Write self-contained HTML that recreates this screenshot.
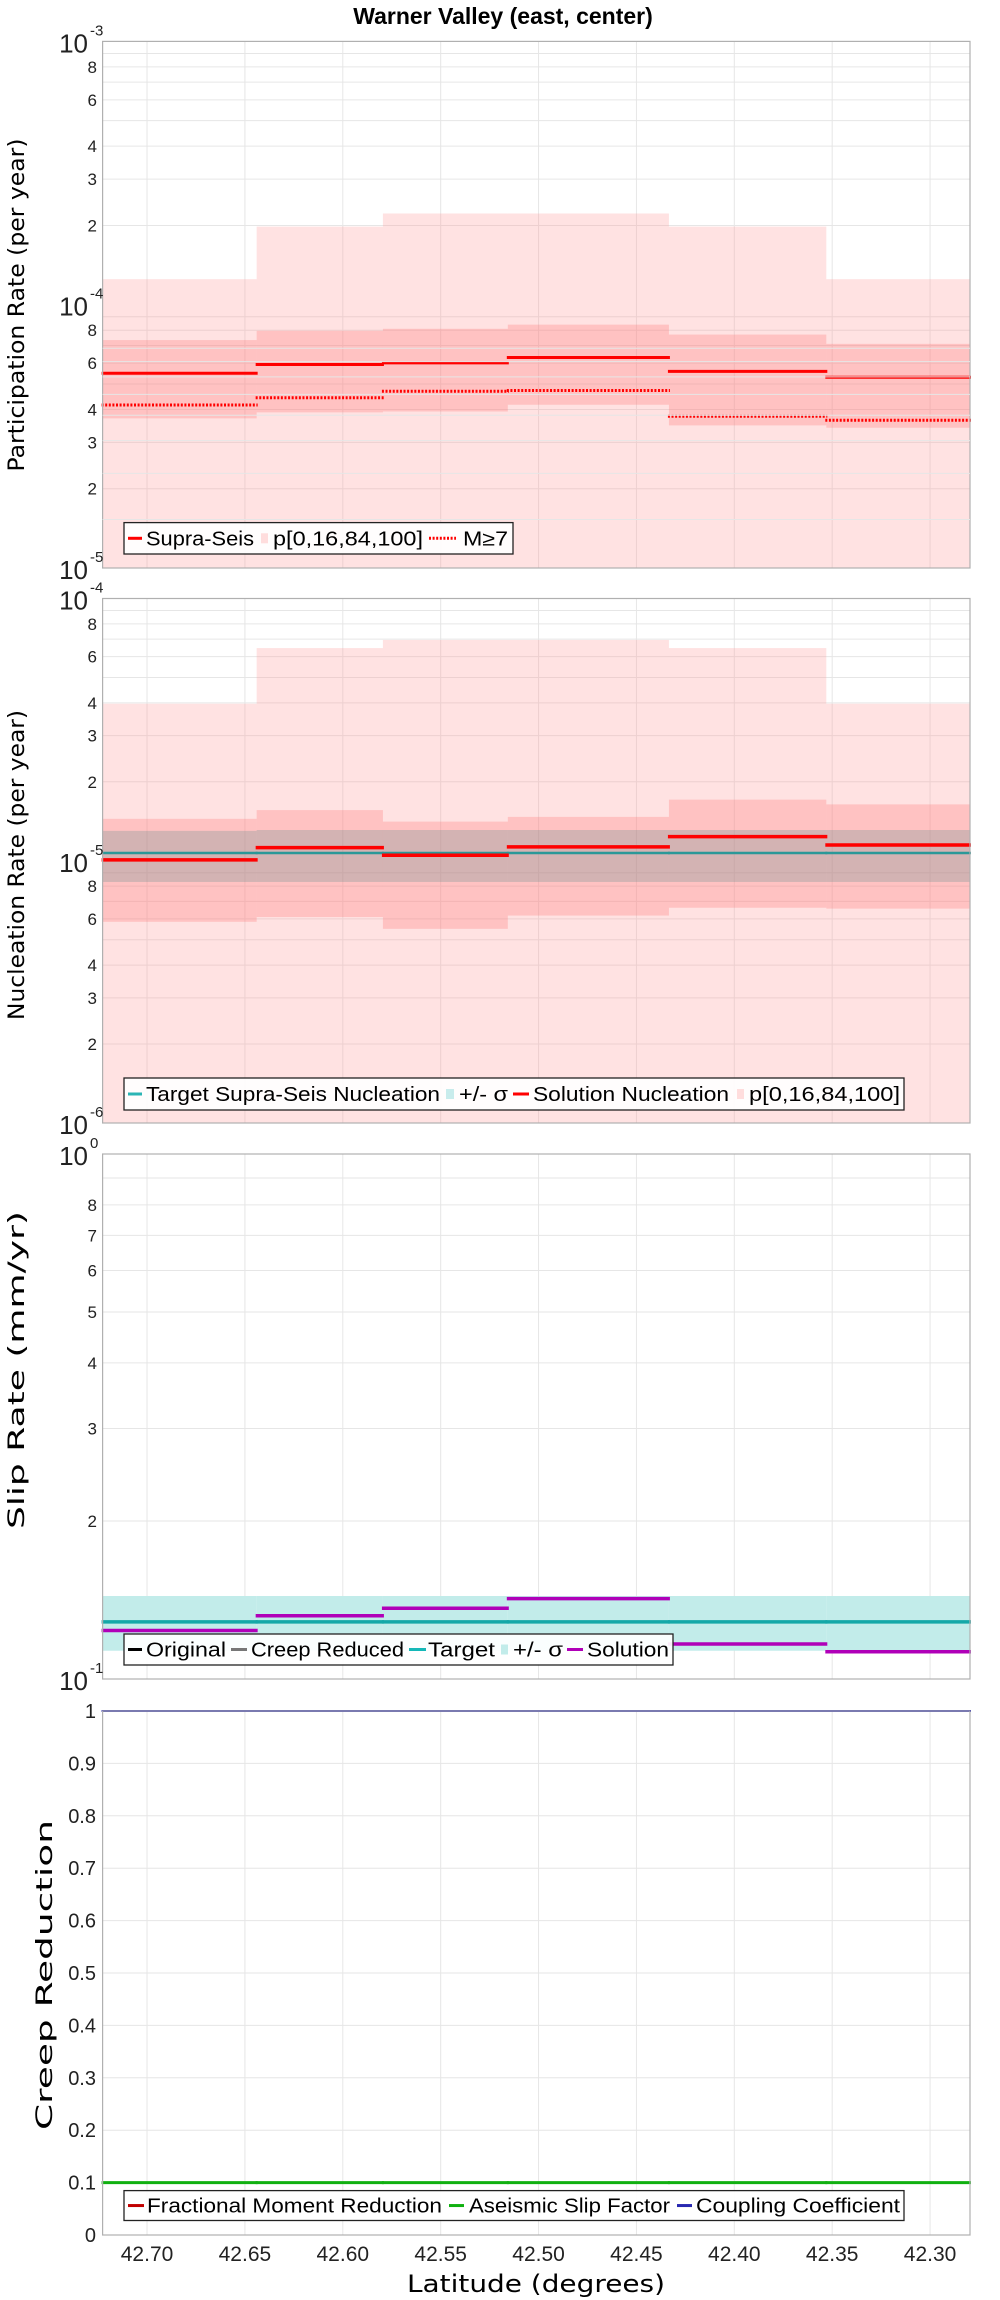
<!DOCTYPE html>
<html><head><meta charset="utf-8"><style>
html,body{margin:0;padding:0;background:#fff}
svg{display:block;font-family:"Liberation Sans",sans-serif}
</style></head><body>
<svg id="c" width="1000" height="2300" viewBox="0 0 1000 2300" xmlns="http://www.w3.org/2000/svg"></svg>
<script>
// ---- data ----
const segEdges = [42.7227, 42.644, 42.5795, 42.5157, 42.4334, 42.353, 42.2796];
const xTicks = [42.70, 42.65, 42.60, 42.55, 42.50, 42.45, 42.40, 42.35, 42.30];
const xTickLabels = ["42.70","42.65","42.60","42.55","42.50","42.45","42.40","42.35","42.30"];
// panel 1 participation
const partP0 = [5e-6,5e-6,5e-6,5e-6,5e-6,5e-6];
const partP100 = [1.25e-4,1.98e-4,2.22e-4,2.22e-4,1.98e-4,1.25e-4];
const partP16 = [3.7e-5,3.9e-5,3.93e-5,4.17e-5,3.48e-5,3.41e-5];
const partP84 = [7.34e-5,7.96e-5,8.1e-5,8.4e-5,7.7e-5,7.1e-5];
const partSupra = [5.49e-5,5.93e-5,6.01e-5,6.3e-5,5.58e-5,5.3e-5];
const partM7 = [4.16e-5,4.43e-5,4.69e-5,4.72e-5,3.77e-5,3.64e-5];
// panel 2 nucleation
const nuclP0 = [5e-7,5e-7,5e-7,5e-7,5e-7,5e-7];
const nuclP100 = [3.97e-5,6.47e-5,6.95e-5,6.95e-5,6.47e-5,3.97e-5];
const nuclP16 = [5.85e-6,6.1e-6,5.5e-6,6.18e-6,6.62e-6,6.57e-6];
const nuclP84 = [1.445e-5,1.56e-5,1.41e-5,1.47e-5,1.71e-5,1.64e-5];
const nuclTarget = [1.07e-5,1.07e-5,1.07e-5,1.07e-5,1.07e-5,1.07e-5];
const nuclSigLo = [8.3e-6,8.3e-6,8.3e-6,8.3e-6,8.3e-6,8.3e-6];
const nuclSigHi = [1.30e-5,1.31e-5,1.31e-5,1.31e-5,1.31e-5,1.31e-5];
const nuclSolution = [1.008e-5,1.122e-5,1.05e-5,1.13e-5,1.236e-5,1.148e-5];
// panel 3 slip
const slipTarget = [0.1285,0.1285,0.1285,0.1285,0.1285,0.1285];
const slipSigLo = [0.1132,0.1132,0.1132,0.1132,0.1132,0.1132];
const slipSigHi = [0.1439,0.1439,0.1439,0.1439,0.1439,0.1439];
const slipSolution = [0.1237,0.132,0.1364,0.1423,0.1166,0.1127];
// panel 4 creep
const aseismic = [0.1,0.1,0.1,0.1,0.1,0.1];
const coupling = [1,1,1,1,1,1];

// ---- layout ----
const svg = document.getElementById('c');
const NS = 'http://www.w3.org/2000/svg';
const L = 102.6, R = 970;
const panels = [
 {top:41.4, bot:568, lo:1e-5, hi:1e-3, log:true},
 {top:598.5, bot:1123, lo:1e-6, hi:1e-4, log:true},
 {top:1154, bot:1679, lo:0.1, hi:1, log:true},
 {top:1711, bot:2235, lo:0, hi:1, log:false}
];
function X(lat){return L + (segEdges[0]-lat)/(segEdges[0]-segEdges[6])*(R-L);}
function Y(p,v){
  if(p.log){return p.top + (Math.log10(p.hi)-Math.log10(v))/(Math.log10(p.hi)-Math.log10(p.lo))*(p.bot-p.top);}
  return p.top + (p.hi-v)/(p.hi-p.lo)*(p.bot-p.top);
}
function mk(tag,attrs,parent){const e=document.createElementNS(NS,tag);for(const k in attrs)e.setAttribute(k,attrs[k]);(parent||svg).appendChild(e);return e;}
function clampY(p,y){return Math.max(p.top,Math.min(p.bot,y));}

// title
const t = mk('text',{x:503,y:24,'text-anchor':'middle','font-size':23,'font-weight':'bold',fill:'#000'});


t.textContent='Warner Valley (east, center)';

function grid(p,pi,yvals){
  const g=mk('g',{});
  
  
  yvals.forEach(v=>{const y=Y(p,v);mk('line',{x1:L,x2:R,y1:y,y2:y,stroke:'#e6e6e6','stroke-width':1},g);});
  xTicks.forEach(v=>{const x=X(v);mk('line',{x1:x,x2:x,y1:p.top,y2:p.bot,stroke:'#e6e6e6','stroke-width':1},g);});
}
function bands(p,lo,hi,fill,name){
  for(let i=0;i<6;i++){
    const y1=clampY(p,Y(p,hi[i])),y2=clampY(p,Y(p,lo[i]));
    const r=mk('rect',{x:X(segEdges[i]),y:y1,width:X(segEdges[i+1])-X(segEdges[i]),height:y2-y1,fill:fill});
    
    
  }
}
function steps(p,vals,color,w,name,dash){
  for(let i=0;i<6;i++){
    const y=Y(p,vals[i]);
    const a={x1:X(segEdges[i])-1,x2:X(segEdges[i+1])+1,y1:y,y2:y,stroke:color,'stroke-width':w};
    if(dash)a['stroke-dasharray']=dash;
    const l=mk('line',a);
    
    
  }
}
function frame(p,pi){
  const r=mk('rect',{x:L,y:p.top,width:R-L,height:p.bot-p.top,fill:'none',stroke:'#b0b0b0','stroke-width':1.2});
  
  
}
function logTicks(p,pi,labels){
  const g=mk('g',{'font-size':17,fill:'#222','text-anchor':'end'});
  
  
  labels.forEach(([v,txt,exp])=>{
    const y=Y(p,v);
    if(exp!==undefined){
      const tx=mk('text',{x:88,y:y+11,'font-size':26,'text-anchor':'end'},g);tx.textContent='10';
      const te=mk('text',{x:90,y:y-6,'font-size':15,'text-anchor':'start'},g);te.textContent=exp;
    } else {
      const tx=mk('text',{x:97,y:y+6},g);tx.textContent=txt;
    }
  });
}
function yTitle(txt,cx,cy,len,name){
  const e=mk('text',{x:cx,y:cy,'font-size':22,'text-anchor':'middle',transform:`rotate(-90 ${cx} ${cy})`,fill:'#000','font-family':'"DejaVu Sans",sans-serif',textLength:len,lengthAdjust:'spacingAndGlyphs'});
  
  
  e.textContent=txt;
}
function legend(x1,y1,x2,y2,items,name){
  const g=mk('g',{});
  
  
  mk('rect',{x:x1,y:y1,width:x2-x1,height:y2-y1,fill:'#fff','fill-opacity':0.92,stroke:'#222','stroke-width':1.3},g);
  const cy=(y1+y2)/2;
  items.forEach(it=>{
    if(it.type==='line'){const a={x1:it.a,x2:it.b,y1:cy,y2:cy,stroke:it.c,'stroke-width':3};if(it.dash)a['stroke-dasharray']=it.dash;mk('line',a,g);}
    else if(it.type==='sq'){mk('rect',{x:it.a,y:cy-5,width:it.b-it.a,height:10,fill:it.c},g);}
    else {const tx=mk('text',{x:it.a,y:cy+7,'font-size':20,fill:'#000',textLength:it.b-it.a,lengthAdjust:'spacingAndGlyphs'},g);tx.textContent=it.t;}
  });
}
const minor=[2,3,4,5,6,7,8,9];
function decGrid(lo,hi){const a=[];for(let d=lo;d<hi;d*=10){minor.forEach(m=>a.push(d*m));}return a;}

// ---- panel 1 ----
let p=panels[0];
grid(p,0,decGrid(1e-5,1e-3));
bands(p,partP0,partP100,'rgba(255,150,150,0.28)','p0-p100-band');
bands(p,partP16,partP84,'rgba(255,120,120,0.3)','p16-p84-band');
steps(p,partSupra,'#f00',3,'supra-seis-line');
steps(p,partM7,'#f00',3,'m7-line','2,1.6');
frame(p,0);
logTicks(p,0,[[1e-3,'','-3'],[8e-4,'8'],[6e-4,'6'],[4e-4,'4'],[3e-4,'3'],[2e-4,'2'],[1e-4,'','-4'],[8e-5,'8'],[6e-5,'6'],[4e-5,'4'],[3e-5,'3'],[2e-5,'2'],[1e-5,'','-5']]);
yTitle('Participation Rate (per year)',24,305,333,'y-axis-title-participation');
legend(124,522.6,513,554,[
 {type:'line',a:128,b:142,c:'#f00'},{t:'Supra-Seis',a:146,b:254},
 {type:'sq',a:261,b:268,c:'#fdd'},{t:'p[0,16,84,100]',a:273,b:423},
 {type:'line',a:429,b:456,c:'#f00',dash:'2,1.6'},{t:'M≥7',a:463,b:508}],'legend-participation');

// ---- panel 2 ----
p=panels[1];
grid(p,1,decGrid(1e-6,1e-4));
bands(p,nuclP0,nuclP100,'rgba(255,150,150,0.28)','nucl-p0-p100-band');
bands(p,nuclP16,nuclP84,'rgba(255,120,120,0.3)','nucl-p16-p84-band');
bands(p,nuclSigLo,nuclSigHi,'rgba(120,150,150,0.33)','nucl-sigma-band');
steps(p,nuclTarget,'#2b9898',2.5,'nucl-target-line');
steps(p,nuclSolution,'#f00',3.5,'nucl-solution-line');
frame(p,1);
logTicks(p,1,[[1e-4,'','-4'],[8e-5,'8'],[6e-5,'6'],[4e-5,'4'],[3e-5,'3'],[2e-5,'2'],[1e-5,'','-5'],[8e-6,'8'],[6e-6,'6'],[4e-6,'4'],[3e-6,'3'],[2e-6,'2'],[1e-6,'','-6']]);
yTitle('Nucleation Rate (per year)',24,865,310,'y-axis-title-nucleation');
legend(124,1078,904,1110,[
 {type:'line',a:128,b:142,c:'#2bb5b5'},{t:'Target Supra-Seis Nucleation',a:146,b:440},
 {type:'sq',a:446,b:454,c:'#c8ecec'},{t:'+/- σ',a:459,b:508},
 {type:'line',a:513,b:529,c:'#f00'},{t:'Solution Nucleation',a:533,b:729},
 {type:'sq',a:737,b:744,c:'#fdd'},{t:'p[0,16,84,100]',a:749,b:900}],'legend-nucleation');

// ---- panel 3 ----
p=panels[2];
grid(p,2,[0.2,0.3,0.4,0.5,0.6,0.7,0.8,0.9]);
bands(p,slipSigLo,slipSigHi,'#c2ecea','slip-sigma-band');
steps(p,slipTarget,'#14a8a8',3.5,'slip-target-line');
steps(p,slipSolution,'#b000b8',3.5,'slip-solution-line');
frame(p,2);
logTicks(p,2,[[1,'','0'],[0.8,'8'],[0.7,'7'],[0.6,'6'],[0.5,'5'],[0.4,'4'],[0.3,'3'],[0.2,'2'],[0.1,'','-1']]);
yTitle('Slip Rate (mm/yr)',24,1370,318,'y-axis-title-slip');
legend(124,1634,673,1665,[
 {type:'line',a:128,b:142,c:'#000'},{t:'Original',a:146,b:226},
 {type:'line',a:231,b:247,c:'#777'},{t:'Creep Reduced',a:251,b:404},
 {type:'line',a:409,b:426,c:'#14b8b8'},{t:'Target',a:428,b:495},
 {type:'sq',a:501,b:508,c:'#c2ecea'},{t:'+/- σ',a:513,b:563},
 {type:'line',a:567,b:583,c:'#b000b8'},{t:'Solution',a:587,b:669}],'legend-slip');

// ---- panel 4 ----
p=panels[3];
grid(p,3,[0.1,0.2,0.3,0.4,0.5,0.6,0.7,0.8,0.9]);
steps(p,aseismic,'#10b010',3,'aseismic-line');
steps(p,coupling,'#2828b0',2,'coupling-line');
frame(p,3);
(function(){
  const g=mk('g',{'font-size':20,fill:'#222','text-anchor':'end'});
  
  
  ['0','0.1','0.2','0.3','0.4','0.5','0.6','0.7','0.8','0.9','1'].forEach((s,i)=>{
    const tx=mk('text',{x:96,y:Y(p,i/10)+7},g);tx.textContent=s;});
})();
yTitle('Creep Reduction',52,1975,310,'y-axis-title-creep');
legend(124,2190.6,904,2220.5,[
 {type:'line',a:128,b:144,c:'#c00000'},{t:'Fractional Moment Reduction',a:147,b:442},
 {type:'line',a:449,b:464,c:'#10b010'},{t:'Aseismic Slip Factor',a:469,b:670},
 {type:'line',a:677,b:692,c:'#2828b0'},{t:'Coupling Coefficient',a:696,b:900}],'legend-creep');

// x ticks
(function(){
  const g=mk('g',{'font-size':21,fill:'#222','text-anchor':'middle'});
  
  
  xTicks.forEach((v,i)=>{const tx=mk('text',{x:X(v),y:2261},g);tx.textContent=xTickLabels[i];});
  const xl=mk('text',{x:536,y:2292,'font-size':24,'text-anchor':'middle',fill:'#000','font-family':'"DejaVu Sans",sans-serif',textLength:258,lengthAdjust:'spacingAndGlyphs'});
  
  
  xl.textContent='Latitude (degrees)';
})();
</script>
</body></html>
